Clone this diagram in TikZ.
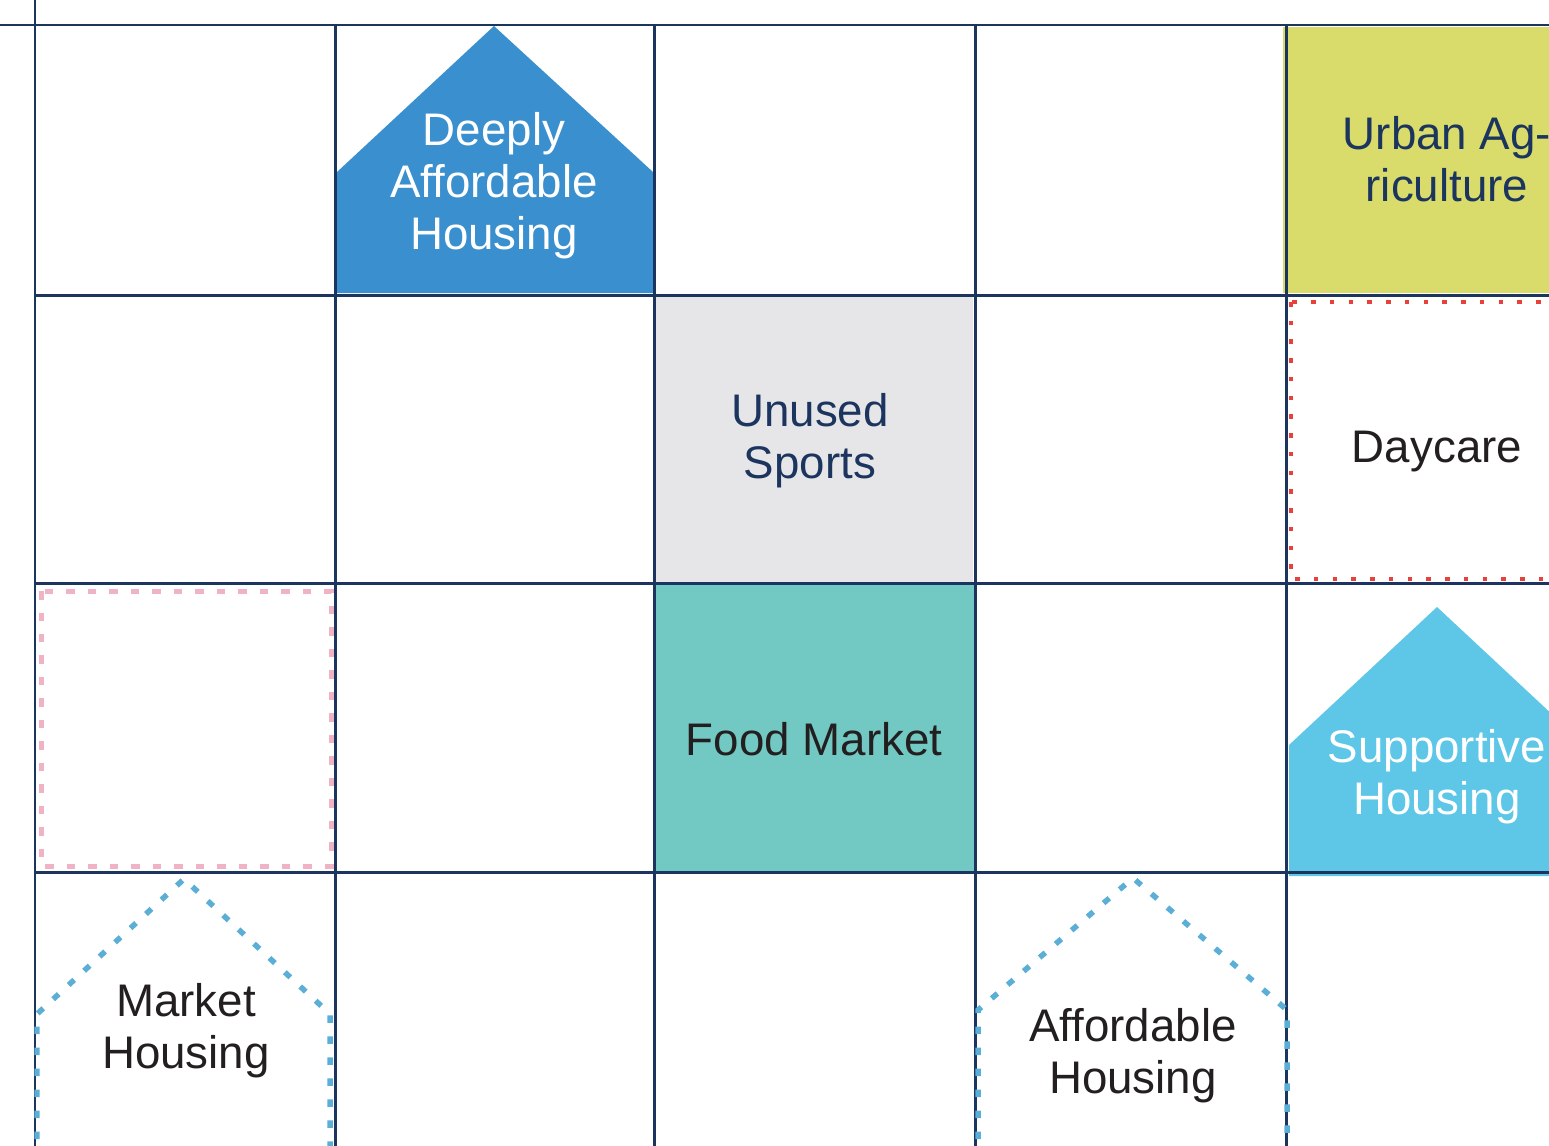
\documentclass[tikz,border=0pt]{standalone}
\usepackage{fontspec}
\setmainfont{Liberation Sans}
\usetikzlibrary{positioning}
\definecolor{gridnavy}{RGB}{28,53,94}
\definecolor{deepblue}{RGB}{58,143,206}
\definecolor{skyblue}{RGB}{94,199,232}
\definecolor{dotblue}{RGB}{91,175,214}
\definecolor{agyellow}{RGB}{217,220,106}
\definecolor{sportgray}{RGB}{230,230,232}
\definecolor{marketteal}{RGB}{114,200,194}
\definecolor{carered}{RGB}{232,65,59}
\definecolor{lotpink}{RGB}{240,179,195}
\definecolor{textdark}{RGB}{35,31,32}

\begin{document}
\begin{tikzpicture}[x=0.02cm, y=-0.02cm,
    use/.style={align=center, inner sep=0pt, font=\fontsize{26}{29.5}\selectfont},
    gridline/.style={draw=gridnavy, line width=0.06cm},
    houseline/.style={draw=dotblue, line width=0.11cm, dash pattern=on 0.15cm off 0.27cm},
    careline/.style={draw=carered, line width=0.09cm, dash pattern=on 0.09cm off 0.285cm},
    lotline/.style={draw=lotpink, line width=0.1cm, dash pattern=on 0.17cm off 0.26cm}
]
    \useasboundingbox (0,0) rectangle (1549,1146);
    \clip (0,0) rectangle (1549,1146);

    % Filled blocks
    \fill[agyellow] (1283,27) rectangle (1560,293);
    \fill[sportgray] (656,297) rectangle (973,583);
    \fill[marketteal] (654,585) rectangle (975,872);
    \fill[deepblue] (337,293) -- (337,172) -- (494,26) -- (653,172) -- (653,293) -- cycle;
    \fill[skyblue] (1289,876) -- (1289,745) -- (1437,607) -- (1585,745) -- (1585,876) -- cycle;

    % Grid
    \draw[gridline] (35,0) -- (35,1146);
    \draw[gridline] (0,25) -- (1549,25);
    \foreach \y in {295,583,872} {
        \draw[gridline] (35,\y) -- (1549,\y);
    }
    \foreach \x in {335,654,975,1286} {
        \draw[gridline] (\x,25) -- (\x,1146);
    }

    % Dotted and dashed outlines
    \draw[careline] (1291,302) rectangle (1570,579);
    \draw[lotline] (41,591) rectangle (331,866);
    \draw[houseline] (37,1160) -- (37,1014) -- (184,879) -- (330,1014) -- (330,1160);
    \draw[houseline] (978,1160) -- (978,1010) -- (1133,878) -- (1287,1010) -- (1287,1160);

    % Labels
    \node[use, text=white] (deep) at (494,186) {Deeply\\Affordable\\Housing};
    \node[use, text=gridnavy] (urban) at (1447,159) {Urban Ag-\\riculture};
    \node[use, text=textdark] (daycare) at (1437,452) {Daycare};
    \node[use, text=gridnavy] (sports) at (810,441) {Unused\\Sports};
    \node[use, text=textdark] (food) at (814,739) {Food Market};
    \node[use, text=white] (support) at (1437,777) {Supportive\\Housing};
    \node[use, text=textdark] (market) at (186,1031) {Market\\Housing};
    \node[use, text=textdark] (afford) at (1133,1056) {Affordable\\Housing};
\end{tikzpicture}
\end{document}
